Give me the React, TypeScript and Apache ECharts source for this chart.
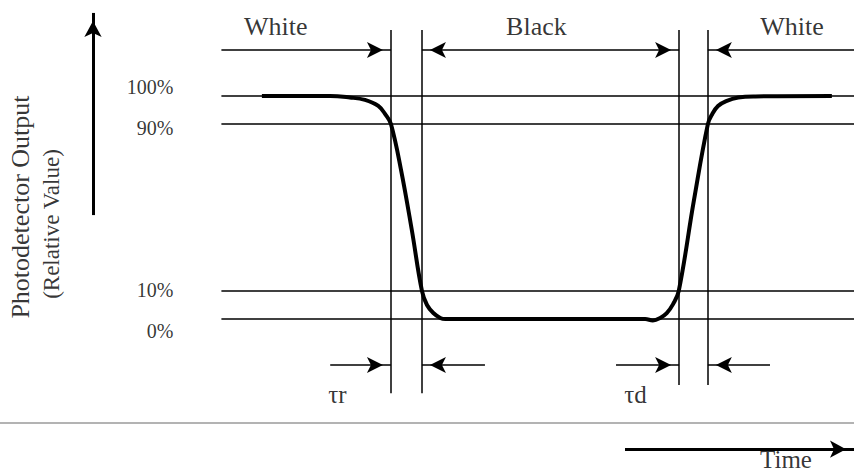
import React, { useEffect, useRef } from "react";
import * as echarts from "echarts";

// ---- data (time in arbitrary units, output in relative value) ----
const CURVE_T = [6.4, 17.2, 20.3, 22.7, 24.8, 26.0, 26.8, 28.4, 30.1, 31.7, 32.5, 33.5, 34.6, 35.4,
  67.0, 68.2, 69.3, 70.4, 71.4, 72.3, 74.7, 76.9, 77.6, 78.5, 79.8, 81.7, 84.4, 96.5];
const CURVE_V = [100, 100, 99.3, 98.2, 95.5, 91.4, 87.4, 66.8, 39.9, 12.6, 6.3, 2.7, 0.5, 0,
  0, -0.6, 0.4, 2.7, 6.7, 12.6, 53.3, 87.4, 91.9, 95.5, 97.7, 99.3, 99.8, 100];
const LEVELS = [100, 87.4, 12.6, 0];
const LEVEL_LABELS = ["100%", "90%", "10%", "0%"];
const EDGE_T = [26.8, 31.7, 72.35, 76.9]; // 90%/10% crossing instants
const STATE_LABELS = ["White", "Black", "White"];
const TAU_LABELS = ["\u03c4r", "\u03c4d"];
const Y_TITLE = ["Photodetector Output", "(Relative Value)"];
const X_TITLE = "Time";

// ---- layout (axis units) ----
const X_MIN = -35, X_MAX = 100, Y_MIN = -69, Y_MAX = 143;
const TOP_ARROW_Y = 120.6;
const VLINE_TOP = 129.5;
const VLINE_BOTTOM = [-33.2, -29.6];
const TAU_ARROW_Y = -20.6;
const TAU_ARROW_TAIL = [17.2, 41.66, 62.38, 86.72];
const GRAY_Y = -46.6;
const TIME_ARROW = { y: -58.3, x0: 63.8, x1: 100 };
const Y_ARROW = { x: -20.3, y0: 46.6, y1: 137.2 };
const LEVEL_LABEL_X = -7.6;
const LEVEL_LABEL_Y = [104.0, 85.5, 12.9, -5.5];
const STATE_LABEL_POS = [[8.6, 131.1], [49.8, 131.1], [90.2, 131.1]];
const TAU_LABEL_POS = [[18.35, -33.8], [65.46, -33.8]];
const Y_TITLE_POS = [[-31.7, 50.2], [-26.9, 42.6]];
const X_TITLE_POS = [89.25, -63.0];

const FONT = "'Liberation Serif', 'Times New Roman', serif";

export default function App() {
  const ref = useRef<HTMLDivElement>(null);
  useEffect(() => {
    if (!ref.current) return;
    const chart = echarts.init(ref.current, null, { renderer: "svg" });
    const thin = { color: "#000", width: 1.5, type: "solid" as const };
    const ARW = [12, 16];
    const arrowEnd = { symbol: "arrow", symbolSize: ARW, symbolOffset: [0, 8] };
    const none = { symbol: "none" };

    const mlData: any[] = [];
    // level lines
    LEVELS.forEach((v) => mlData.push([{ coord: [0, v], ...none }, { coord: [X_MAX, v], ...none }]));
    // vertical edge lines
    EDGE_T.forEach((t, i) =>
      mlData.push([{ coord: [t, VLINE_TOP], ...none }, { coord: [t, VLINE_BOTTOM[i < 2 ? 0 : 1]], ...none }])
    );
    // top state arrows
    mlData.push([{ coord: [0, TOP_ARROW_Y], ...none }, { coord: [EDGE_T[0], TOP_ARROW_Y], ...arrowEnd }]);
    mlData.push([{ coord: [EDGE_T[1], TOP_ARROW_Y], ...arrowEnd }, { coord: [EDGE_T[2], TOP_ARROW_Y], ...arrowEnd }]);
    mlData.push([{ coord: [X_MAX, TOP_ARROW_Y], ...none }, { coord: [EDGE_T[3], TOP_ARROW_Y], ...arrowEnd }]);
    // tau arrows
    EDGE_T.forEach((t, i) =>
      mlData.push([{ coord: [TAU_ARROW_TAIL[i], TAU_ARROW_Y], ...none }, { coord: [t, TAU_ARROW_Y], ...arrowEnd }])
    );
    // gray separator
    mlData.push([
      { coord: [X_MIN, GRAY_Y], ...none, lineStyle: { color: "#9a9a9a", width: 1.5 } },
      { coord: [X_MAX, GRAY_Y], ...none },
    ]);
    // time arrow
    mlData.push([
      { coord: [TIME_ARROW.x0, TIME_ARROW.y], ...none, lineStyle: { color: "#000", width: 3 } },
      { coord: [TIME_ARROW.x1, TIME_ARROW.y], symbol: "arrow", symbolSize: [13, 16], symbolOffset: [0, 8] },
    ]);
    // y arrow
    mlData.push([
      { coord: [Y_ARROW.x, Y_ARROW.y0], ...none, lineStyle: { color: "#000", width: 3 } },
      { coord: [Y_ARROW.x, Y_ARROW.y1], symbol: "arrow", symbolSize: [13, 16], symbolOffset: [0, 8] },
    ]);

    const txt = (name: string, pos: number[], size: number, extra: any = {}) => ({
      name,
      value: pos,
      label: {
        show: true,
        position: "inside",
        formatter: name,
        fontFamily: FONT,
        fontSize: size,
        color: "#000",
        align: "center",
        verticalAlign: "middle",
        ...extra,
      },
    });

    const texts: any[] = [];
    STATE_LABELS.forEach((s, i) => texts.push(txt(s, STATE_LABEL_POS[i], 26)));
    TAU_LABELS.forEach((s, i) => texts.push(txt(s, TAU_LABEL_POS[i], 25)));
    LEVEL_LABELS.forEach((s, i) => texts.push(txt(s, [LEVEL_LABEL_X, LEVEL_LABEL_Y[i]], 20, { align: "right" })));
    texts.push(txt(Y_TITLE[0], Y_TITLE_POS[0], 26, { rotate: 90 }));
    texts.push(txt(Y_TITLE[1], Y_TITLE_POS[1], 23, { rotate: 90 }));
    texts.push(txt(X_TITLE, X_TITLE_POS, 25));

    chart.setOption({
      animation: false,
      backgroundColor: "#fff",
      grid: { left: 0, right: 0, top: 0, bottom: 0 },
      xAxis: { type: "value", min: X_MIN, max: X_MAX, show: false },
      yAxis: { type: "value", min: Y_MIN, max: Y_MAX, show: false },
      series: [
        {
          type: "line",
          data: CURVE_T.map((t, i) => [t, CURVE_V[i]]),
          smooth: 0.4,
          showSymbol: false,
          silent: true,
          lineStyle: { color: "#000", width: 4 },
          z: 5,
          markLine: {
            silent: true,
            symbol: "none",
            label: { show: false },
            lineStyle: thin,
            emphasis: { disabled: true },
            data: mlData,
          },
        },
        {
          type: "scatter",
          symbolSize: 0,
          silent: true,
          data: texts,
          z: 6,
        },
      ],
    });
    return () => chart.dispose();
  }, []);
  return (
    <div
      ref={ref}
      style={{ position: "absolute", left: 0, top: 0, width: 854, height: 473, background: "#fff" }}
    />
  );
}
